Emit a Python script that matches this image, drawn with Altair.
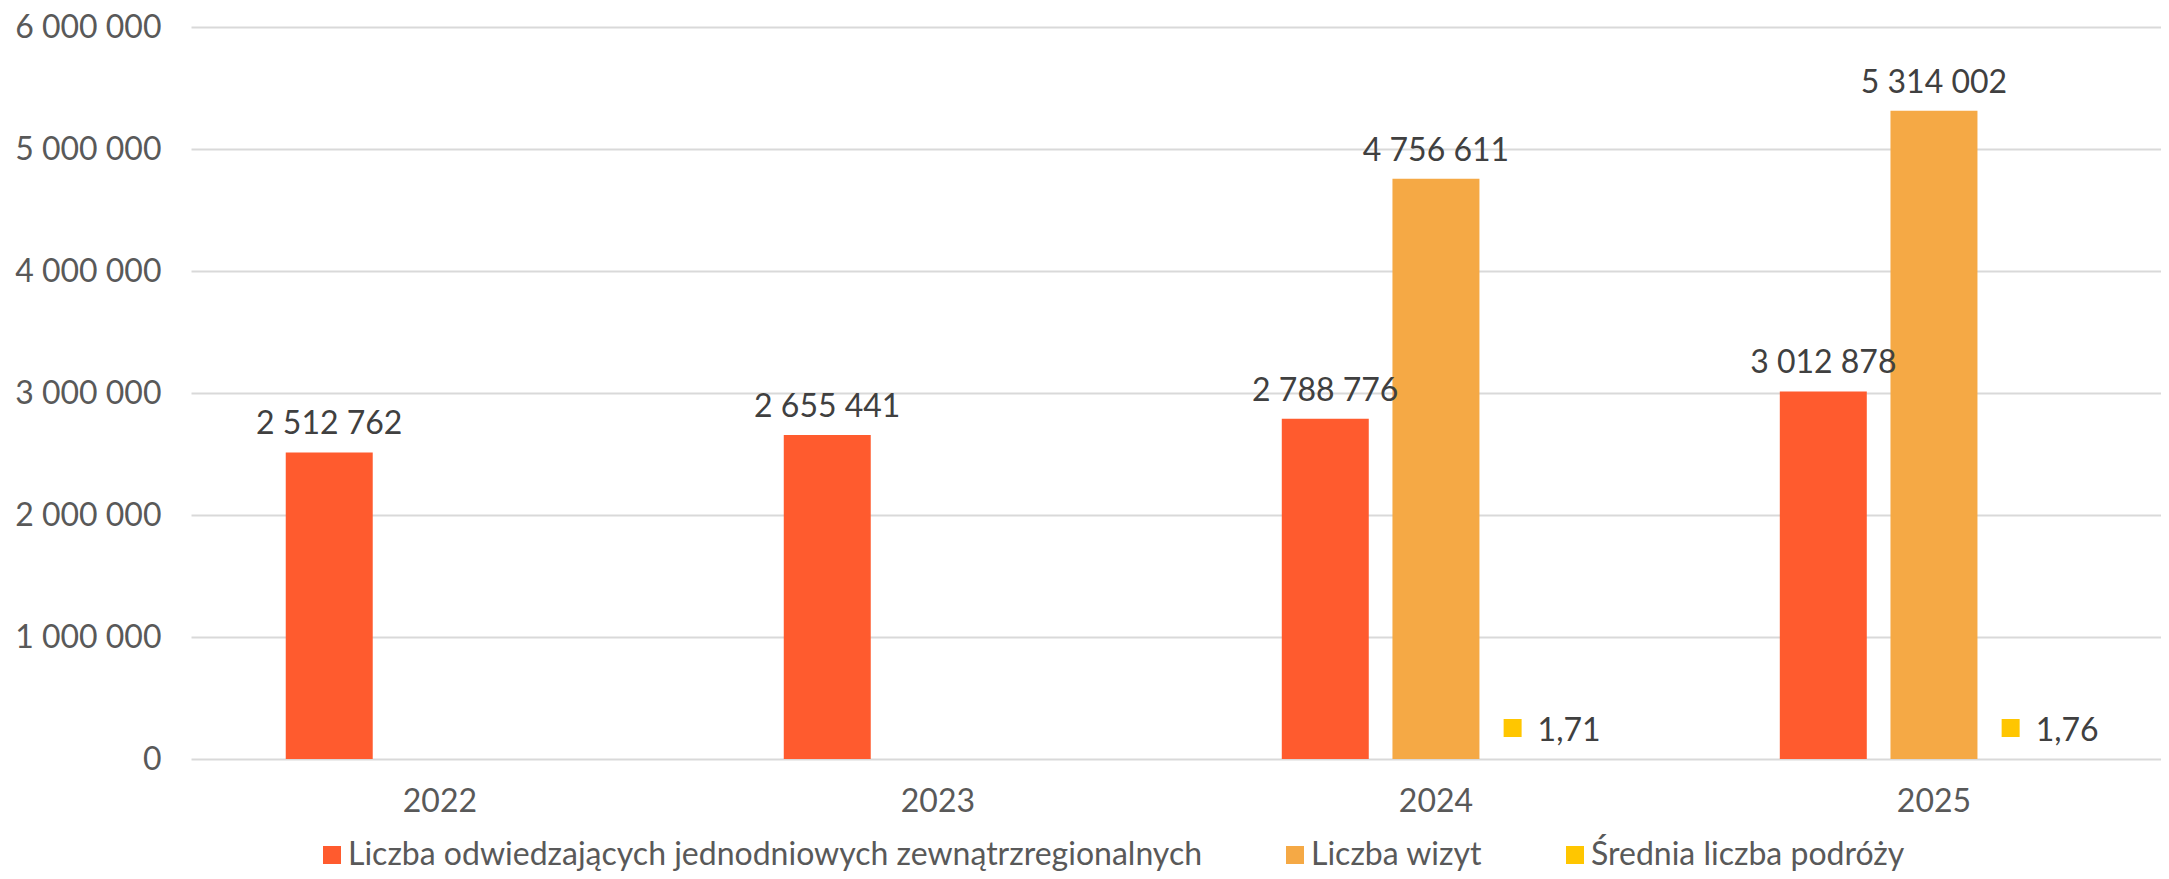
import altair as alt
import pandas as pd

years = ["2022", "2023", "2024", "2025"]
series = [
    "Liczba odwiedzających jednodniowych zewnątrzregionalnych",
    "Liczba wizyt",
    "Średnia liczba podróży",
]
visitors = [2512762, 2655441, 2788776, 3012878]
visits = [None, None, 4756611, 5314002]
avg_trips = [None, None, 1.71, 1.76]
colors = ["#FF5B2E", "#F5A945", "#FFC600"]
y_ticks = [0, 1000000, 2000000, 3000000, 4000000, 5000000, 6000000]

rows = []
for s, vals in zip(series, [visitors, visits, avg_trips]):
    for yr, v in zip(years, vals):
        if v is None:
            continue
        if isinstance(v, float):
            label = f"{v:.2f}".replace(".", ",")
        else:
            label = f"{v:,}".replace(",", " ")
        rows.append(dict(year=yr, series=s, value=v, label=label))
df = pd.DataFrame(rows)

FONT = "Lato"
FS = 32

x_enc = alt.X(
    "year:N",
    sort=years,
    scale=alt.Scale(paddingInner=1 / 3, paddingOuter=0.1445, align=0.576),
    axis=alt.Axis(
        title=None, labelAngle=0, ticks=False, tickSize=0, domain=False,
        labelFont=FONT, labelFontSize=FS, labelColor="#595959", labelPadding=27,
        grid=False,
    ),
)
xoff_enc = alt.XOffset(
    "series:N",
    scale=alt.Scale(domain=series, paddingInner=0.214, paddingOuter=0.107),
)
y_enc = alt.Y(
    "value:Q",
    scale=alt.Scale(domain=[0, 6000000]),
    axis=alt.Axis(
        title=None, values=y_ticks,
        labelExpr="replace(format(datum.value, ','), regexp(',', 'g'), ' ')",
        grid=True, gridColor="#D9D9D9", gridWidth=2, domain=False,
        ticks=False, tickSize=0, labelPadding=30,
        labelFont=FONT, labelFontSize=FS, labelColor="#595959",
    ),
)

base = alt.Chart(df).encode(x=x_enc, xOffset=xoff_enc, y=y_enc)

bars = base.mark_bar().encode(
    color=alt.Color(
        "series:N",
        scale=alt.Scale(domain=series, range=colors),
        legend=alt.Legend(
            title=None, orient="none", legendX=125, legendY=812,
            direction="horizontal", symbolType="square", symbolSize=324,
            symbolStrokeWidth=0, labelFont=FONT, labelFontSize=FS,
            labelColor="#595959", labelLimit=2000, labelOffset=0,
            columnPadding=76, padding=0,
        ),
    )
)

big_labels = base.mark_text(
    font=FONT, fontSize=FS, color="#404040", baseline="alphabetic", dy=-18
).encode(text="label:N").transform_filter(
    alt.FieldOneOfPredicate(field="series", oneOf=series[:2])
)

small_labels = base.mark_text(
    font=FONT, fontSize=FS, color="#404040", baseline="alphabetic",
    align="left", dx=-9, dy=-18,
).encode(text="label:N").transform_filter(
    alt.FieldEqualPredicate(field="series", equal=series[2])
)

# legend-key square next to the small data labels (Excel style)
keys = base.mark_point(
    shape="M-2.389,-2.222H-1.389V-1.222H-2.389Z",
    filled=True, size=1296, opacity=1, color=colors[2], strokeWidth=0,
).transform_filter(
    alt.FieldEqualPredicate(field="series", equal=series[2])
)

chart = (
    alt.layer(bars, big_labels, small_labels, keys)
    .properties(
        width=1970, height=732,
        padding={"left": 183, "top": 19, "right": 0, "bottom": 112},
        autosize=alt.AutoSizeParams(type="none"),
        background="white",
    )
    .configure_view(stroke=None)
)

chart.save("out.html", embed_options={"renderer": "svg", "actions": False})
